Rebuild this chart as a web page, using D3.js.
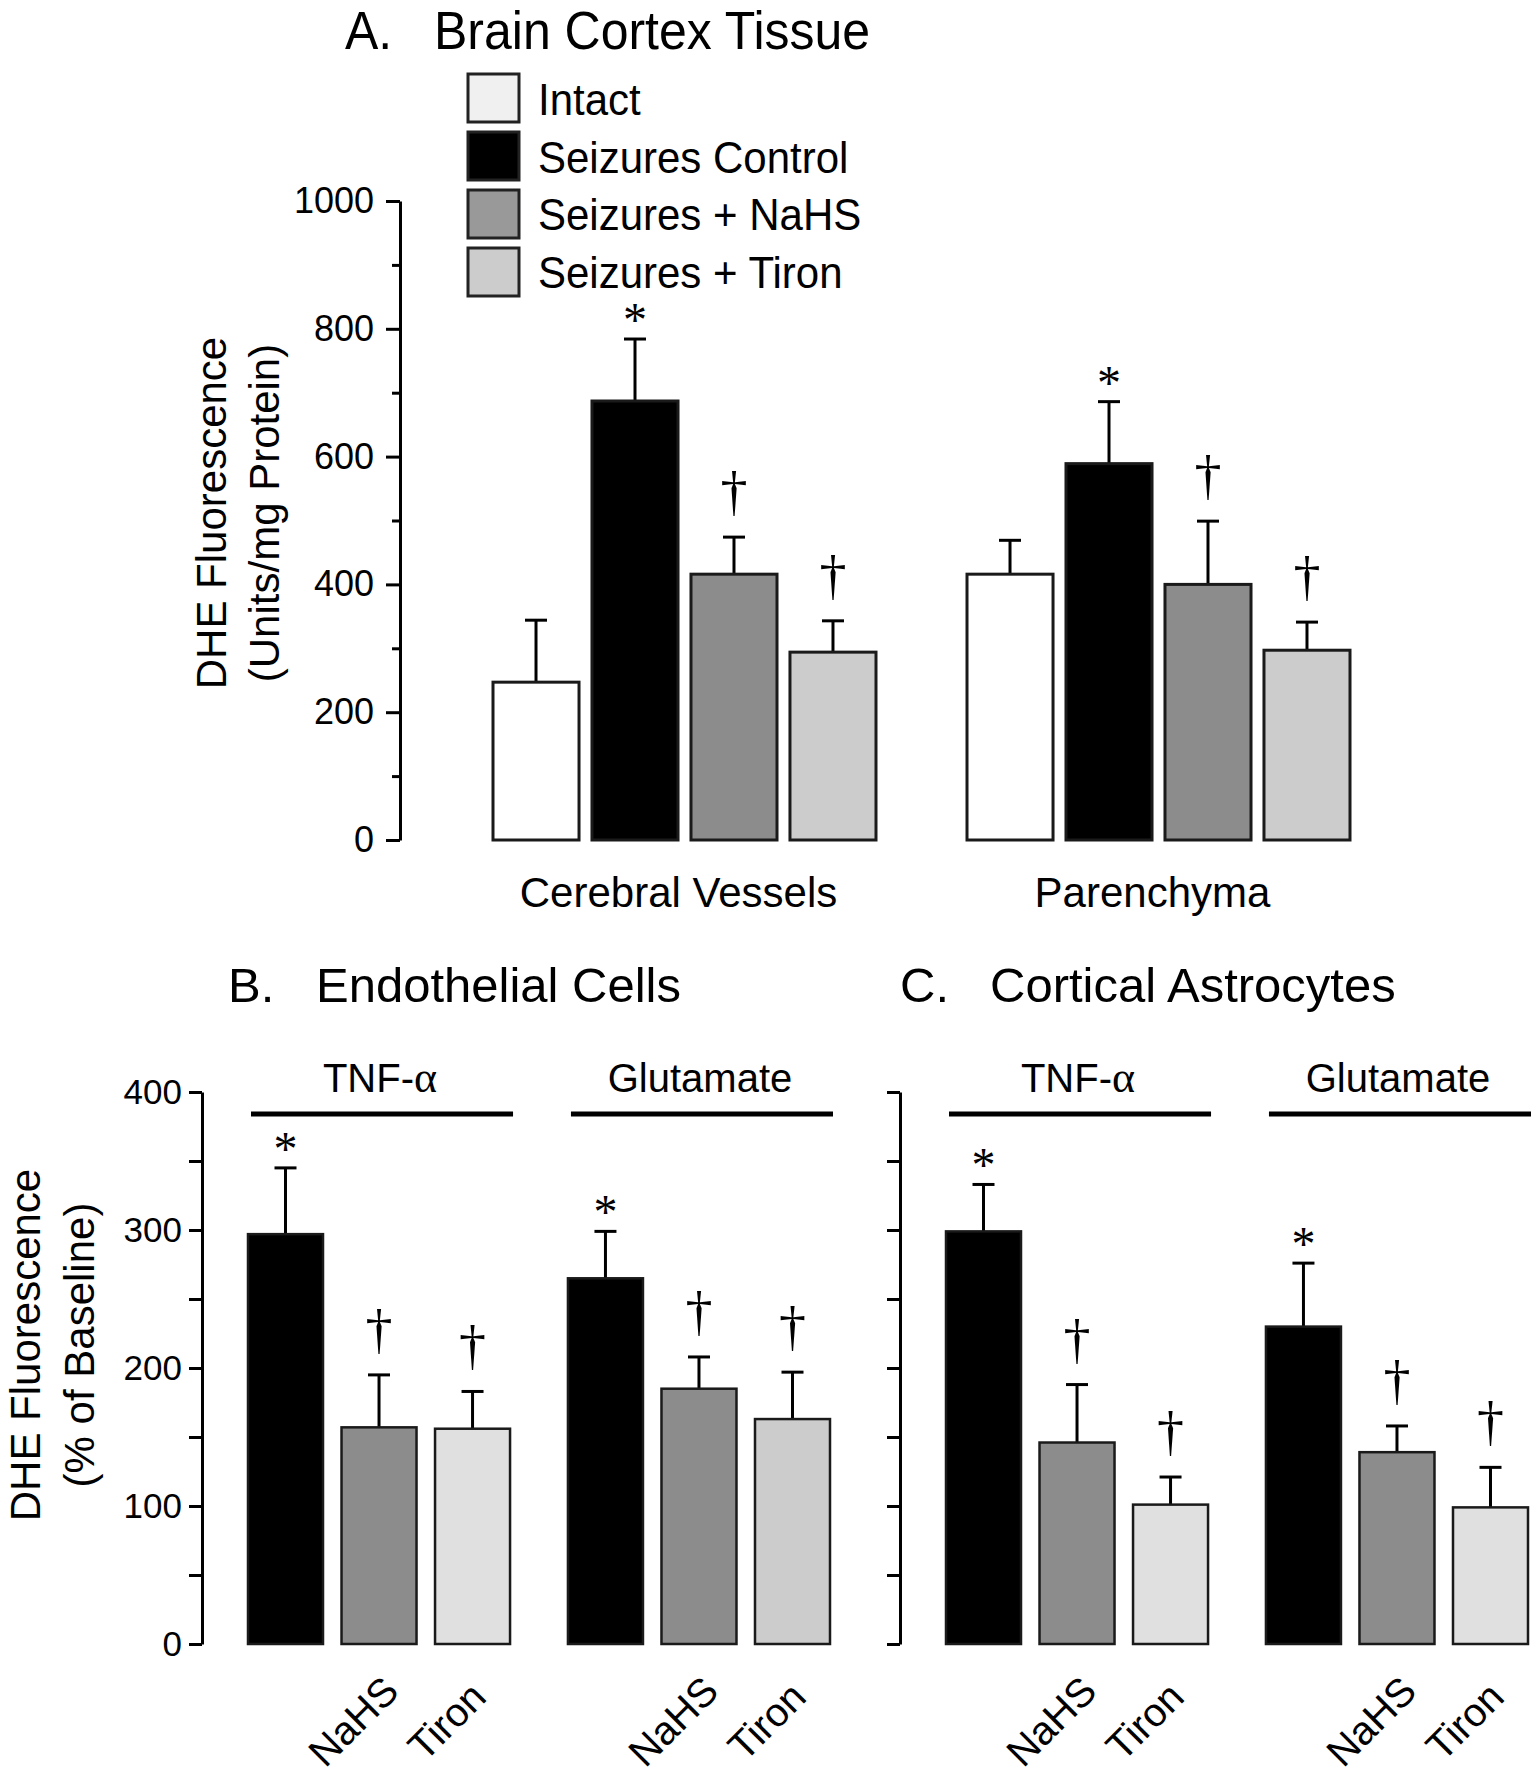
<!DOCTYPE html>
<html>
<head>
<meta charset="utf-8">
<script src="https://cdn.jsdelivr.net/npm/d3@7"></script>
<style>
  body { margin: 0; background: #fff; }
  svg { display: block; font-family: 'Liberation Sans', Arial, sans-serif; }
  .mark { font-family: 'Liberation Serif', 'Times New Roman', serif; }
</style>
</head>
<body>
<svg id="myGraph" width="1538" height="1780"></svg>
<script>
var svgWidth = 1538;
var svgHeight = 1780;

// Panel A data
var tissueGroups = ['Cerebral Vessels', 'Parenchyma'];
var tissueSeries = ['Intact', 'Seizures Control', 'Seizures + NaHS', 'Seizures + Tiron'];
var tissueMeans = [[247, 687, 416, 294], [416, 589, 400, 297]];
var tissueSems = [[97, 97, 58, 49], [53, 97, 99, 44]];
var tissueMarks = [['', '*', '\u2020', '\u2020'], ['', '*', '\u2020', '\u2020']];
var tissueTicks = [0, 200, 400, 600, 800, 1000];

// Panel B / C data
var cellGroups = ['TNF-\u03b1', 'Glutamate'];
var cellSeries = ['Control', 'NaHS', 'Tiron'];
var cellLabels = ['', 'NaHS', 'Tiron'];
var endoMeans = [[297, 157, 156], [265, 185, 163]];
var endoSems = [[48, 38, 27], [34, 23, 34]];
var astroMeans = [[299, 146, 101], [230, 139, 99]];
var astroSems = [[34, 42, 20], [46, 19, 29]];
var cellMarks = [['*', '\u2020', '\u2020'], ['*', '\u2020', '\u2020']];
var cellTicks = [0, 100, 200, 300, 400];

var svg = d3.select('#myGraph');

svg.append('rect')
  .attr('width', svgWidth)
  .attr('height', svgHeight)
  .attr('fill', '#fff');

function addMark(g, cx, topY, sym) {
  if (!sym) return;
  var star = sym === '*';
  g.append('text')
    .attr('class', 'mark')
    .attr('x', cx)
    .attr('y', star ? topY - 3 : topY - 27)
    .attr('text-anchor', 'middle')
    .style('font-size', star ? '48px' : '54px')
    .text(sym);
}

function drawBars(g, x0, x1, y, groups, series, means, sems, marks, fills, strokeW) {
  groups.forEach(function(grp, gi) {
    series.forEach(function(s, si) {
      var m = means[gi][si];
      var top = y(m + sems[gi][si]);
      var bx = x0(grp) + x1(s);
      var cx = bx + x1.bandwidth() / 2;
      var f = typeof fills[si] === 'string' ? fills[si] : fills[si][gi];

      // error bar first, bar stroke overlaps its foot
      g.append('line')
        .attr('x1', cx).attr('x2', cx)
        .attr('y1', y(m)).attr('y2', top)
        .attr('stroke', '#000').attr('stroke-width', 3);
      g.append('line')
        .attr('x1', cx - 11).attr('x2', cx + 11)
        .attr('y1', top).attr('y2', top)
        .attr('stroke', '#000').attr('stroke-width', 3);

      g.append('rect')
        .attr('x', bx)
        .attr('y', y(m))
        .attr('width', x1.bandwidth())
        .attr('height', y(0) - y(m))
        .attr('fill', f)
        .attr('stroke', '#1a1a1a')
        .attr('stroke-width', strokeW);

      addMark(g, cx, top, marks[gi][si]);
    });
  });
}

function styleAxis(ax, size) {
  ax.select('.domain').attr('stroke-width', 3);
  ax.selectAll('.tick line').attr('stroke-width', 3);
  ax.selectAll('.tick text')
    .attr('fill', '#000')
    .style('font-family', "'Liberation Sans', Arial, sans-serif")
    .style('font-size', size + 'px');
}

function drawYTitle(g, x1, x2, cy, line1, line2) {
  g.append('text')
    .attr('transform', 'translate(' + x1 + ',' + cy + ') rotate(-90)')
    .attr('text-anchor', 'middle')
    .style('font-size', '42px')
    .text(line1);
  g.append('text')
    .attr('transform', 'translate(' + x2 + ',' + cy + ') rotate(-90)')
    .attr('text-anchor', 'middle')
    .style('font-size', '42px')
    .text(line2);
}

function drawPanelA() {
  var g = svg.append('g');
  var y = d3.scaleLinear().domain([0, 1000]).range([840, 201]);
  var x0 = d3.scaleBand().domain(tissueGroups).range([493, 1350]).paddingInner(0.192);
  var x1 = d3.scaleBand().domain(tissueSeries).range([0, x0.bandwidth()]).paddingInner(0.131);

  // title, slightly tall lettering as in the original
  g.append('text')
    .attr('transform', 'translate(345,49) scale(1,1.08)')
    .style('font-size', '50px')
    .text('A.');
  g.append('text')
    .attr('transform', 'translate(434,49) scale(1,1.08)')
    .style('font-size', '50px')
    .text('Brain Cortex Tissue');

  // legend
  var legendFills = ['#f0f0f0', '#000', '#999', '#ccc'];
  tissueSeries.forEach(function(s, i) {
    g.append('rect')
      .attr('x', 468).attr('y', 74 + i * 58)
      .attr('width', 51).attr('height', 48)
      .attr('fill', legendFills[i])
      .attr('stroke', '#222').attr('stroke-width', 3);
    g.append('text')
      .attr('transform', 'translate(538,' + (115 + i * 57.5) + ') scale(1,1.06)')
      .style('font-size', '42px')
      .text(s);
  });

  var minor = g.append('g')
    .attr('transform', 'translate(400,0)')
    .call(d3.axisLeft(y).tickValues([100, 300, 500, 700, 900]).tickSize(8).tickFormat(''));
  minor.select('.domain').remove();
  minor.selectAll('.tick line').attr('stroke-width', 3);

  var major = g.append('g')
    .attr('transform', 'translate(400,0)')
    .call(d3.axisLeft(y).tickValues(tissueTicks).tickSize(14).tickSizeOuter(0)
      .tickPadding(12).tickFormat(d3.format('d')));
  styleAxis(major, 36);

  drawYTitle(g, 226, 279, 513, 'DHE Fluorescence', '(Units/mg Protein)');

  drawBars(g, x0, x1, y, tissueGroups, tissueSeries, tissueMeans, tissueSems, tissueMarks,
    ['#fff', '#000', '#8c8c8c', '#ccc'], 3);

  tissueGroups.forEach(function(grp) {
    g.append('text')
      .attr('x', x0(grp) + x0.bandwidth() / 2 - 6)
      .attr('y', 907)
      .attr('text-anchor', 'middle')
      .style('font-size', '42px')
      .text(grp);
  });
}

function drawCellPanel(ox, letter, title, letterX, titleX, means, sems, tiron, showLabels) {
  var g = svg.append('g');
  var y = d3.scaleLinear().domain([0, 400]).range([1644, 1092]);
  var x0 = d3.scaleBand().domain(cellGroups).range([ox + 46, ox + 628]).paddingInner(0.181);
  var x1 = d3.scaleBand().domain(cellSeries).range([0, x0.bandwidth()]).paddingInner(0.198);

  g.append('text')
    .attr('x', letterX).attr('y', 1002)
    .style('font-size', '49px')
    .text(letter);
  g.append('text')
    .attr('x', titleX).attr('y', 1002)
    .style('font-size', '49px')
    .text(title);

  var ax = g.append('g')
    .attr('transform', 'translate(' + ox + ',0)')
    .call(d3.axisLeft(y)
      .tickValues(d3.range(0, 401, 50))
      .tickSize(13).tickSizeOuter(0).tickPadding(7)
      .tickFormat(function(d) {
        return showLabels && cellTicks.indexOf(d) >= 0 ? d : '';
      }));
  styleAxis(ax, 35);

  cellGroups.forEach(function(grp) {
    g.append('line')
      .attr('x1', x0(grp) + 3).attr('x2', x0(grp) + x0.bandwidth() + 3)
      .attr('y1', 1114).attr('y2', 1114)
      .attr('stroke', '#000').attr('stroke-width', 5);
    var t = g.append('text')
      .attr('x', x0(grp) + x0.bandwidth() / 2 + 1)
      .attr('y', 1092)
      .attr('text-anchor', 'middle')
      .style('font-size', '40px');
    if (grp.indexOf('\u03b1') >= 0) {
      t.append('tspan').text('TNF-');
      t.append('tspan').attr('class', 'mark').style('font-size', '44px').text('\u03b1');
    } else {
      t.text(grp);
    }
  });

  drawBars(g, x0, x1, y, cellGroups, cellSeries, means, sems, cellMarks,
    ['#000', '#8c8c8c', tiron], 2.5);

  cellGroups.forEach(function(grp) {
    cellSeries.forEach(function(s, si) {
      if (!cellLabels[si]) return;
      var cx = x0(grp) + x1(s) + x1.bandwidth() / 2 - 16;
      g.append('text')
        .attr('transform', 'translate(' + cx + ',1731) rotate(-45)')
        .attr('text-anchor', 'middle')
        .style('font-size', '40px')
        .text(cellLabels[si]);
    });
  });
}

drawPanelA();
drawCellPanel(202, 'B.', 'Endothelial Cells', 228, 316, endoMeans, endoSems, ['#e0e0e0', '#ccc'], true);
drawCellPanel(900, 'C.', 'Cortical Astrocytes', 900, 990, astroMeans, astroSems, ['#e0e0e0', '#e0e0e0'], false);
drawYTitle(svg, 40, 94, 1345, 'DHE Fluorescence', '(% of Baseline)');
</script>
</body>
</html>
